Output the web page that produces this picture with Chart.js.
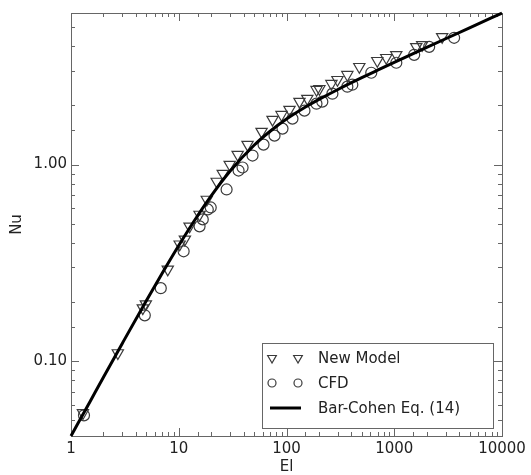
<!DOCTYPE html>
<html>
<head>
<meta charset="utf-8">
<script src="https://cdn.jsdelivr.net/npm/chart.js@4.4.0/dist/chart.umd.min.js"></script>
<style>
  html, body { margin: 0; padding: 0; background: #fff; }
</style>
</head>
<body>
<canvas id="nuChart" width="531" height="475"></canvas>
<script>
// values
const modelEl = [1.29, 2.72, 4.64, 4.95, 7.91, 10.2, 11.4, 12.6, 15.6, 18.2, 22.5, 25.6, 29.7, 35.2, 43.5, 58.7,
  74.2, 89.9, 106.6, 132, 156, 190, 202, 261, 297, 367, 474, 696, 843, 1044, 1600, 1816, 2782];
const modelNu = [0.0545, 0.110, 0.186, 0.195, 0.293, 0.393, 0.416, 0.485, 0.557, 0.664, 0.820, 0.900, 1.00, 1.124, 1.263, 1.471,
  1.692, 1.793, 1.902, 2.089, 2.163, 2.402, 2.43, 2.577, 2.700, 2.864, 3.144, 3.373, 3.493, 3.615, 3.97, 4.064, 4.465];

const cfdEl = [1.32, 4.84, 6.81, 11.1, 15.6, 16.7, 18.6, 19.8, 27.8, 35.9, 39.1, 48.4, 61.2, 77.4, 91.8, 113.6,
  146.8, 189.7, 215, 266.7, 367, 408, 612, 1045, 1531, 2109, 3594];
const cfdNu = [0.053, 0.171, 0.235, 0.362, 0.485, 0.526, 0.591, 0.605, 0.747, 0.932, 0.966, 1.111, 1.263, 1.403, 1.523, 1.712,
  1.880, 2.040, 2.089, 2.293, 2.489, 2.547, 2.931, 3.294, 3.615, 3.970, 4.413];

const corrEl = [1, 1.5, 2, 3, 5, 7, 10, 15, 20, 30, 50, 70, 100, 150, 200, 300, 500, 700, 1000, 2000, 3000, 5000, 10000];
const corrNu = [0.0416, 0.0622, 0.0828, 0.1234, 0.2028, 0.279, 0.3872, 0.5503, 0.693, 0.9267, 1.253, 1.473, 1.703,
  1.960, 2.144, 2.409, 2.765, 3.018, 3.307, 3.941, 4.364, 4.960, 5.899];

const xTickLabels = ['1', '10', '100', '1000', '10000'];
const yTickLabels = ['0.10', '1.00'];
const legendLabels = ['New Model', 'CFD', 'Bar-Cohen Eq. (14)'];

const FONT = "'DejaVu Sans', 'Liberation Sans', sans-serif";
const MARK = '#3a3a3a';

const toPts = (xs, ys) => xs.map((v, i) => ({ x: v, y: ys[i] }));

function pickLabel(list, value) {
  const hit = list.find(s => Math.abs(Number(s) - value) < 1e-9 * Math.max(1, value));
  return hit === undefined ? '' : hit;
}

// frame with inward ticks on all four sides, like the original plot
const frameTicks = {
  id: 'frameTicks',
  beforeDatasetsDraw(chart) {
    const { ctx, chartArea: a, scales: { x, y } } = chart;
    ctx.save();
    ctx.strokeStyle = '#666';
    ctx.lineWidth = 1;
    ctx.strokeRect(a.left + 0.5, a.top + 0.5, a.right - a.left, a.bottom - a.top);
    ctx.beginPath();
    x.ticks.forEach(t => {
      const px = Math.round(x.getPixelForValue(t.value)) + 0.5;
      const len = t.major ? 8 : 4;
      ctx.moveTo(px, a.bottom); ctx.lineTo(px, a.bottom - len);
      ctx.moveTo(px, a.top); ctx.lineTo(px, a.top + len);
    });
    y.ticks.forEach(t => {
      const py = Math.round(y.getPixelForValue(t.value)) + 0.5;
      const len = t.major ? 8 : 4;
      ctx.moveTo(a.left, py); ctx.lineTo(a.left + len, py);
      ctx.moveTo(a.right, py); ctx.lineTo(a.right - len, py);
    });
    ctx.stroke();
    ctx.restore();
  }
};

function drawTri(ctx, cx, cy, r) {
  ctx.beginPath();
  ctx.moveTo(cx, cy + r);
  ctx.lineTo(cx - r * 0.866, cy - r * 0.5);
  ctx.lineTo(cx + r * 0.866, cy - r * 0.5);
  ctx.closePath();
  ctx.stroke();
}

// matplotlib-style legend with two markers per entry
const boxLegend = {
  id: 'boxLegend',
  afterDraw(chart) {
    const { ctx, chartArea: a } = chart;
    const w = 231, h = 85;
    const left = a.right - 9 - w, top = a.bottom - 8 - h;
    ctx.save();
    ctx.fillStyle = '#fff';
    ctx.strokeStyle = '#666';
    ctx.lineWidth = 1;
    ctx.fillRect(left, top, w, h);
    ctx.strokeRect(left + 0.5, top + 0.5, w, h);

    const rows = [top + 15, top + 40, top + 65];
    ctx.strokeStyle = MARK;
    ctx.lineWidth = 1.2;
    drawTri(ctx, left + 10, rows[0], 5);
    drawTri(ctx, left + 36, rows[0], 5);
    ctx.beginPath(); ctx.arc(left + 10, rows[1], 4, 0, Math.PI * 2); ctx.stroke();
    ctx.beginPath(); ctx.arc(left + 36, rows[1], 4, 0, Math.PI * 2); ctx.stroke();
    ctx.strokeStyle = '#000';
    ctx.lineWidth = 3;
    ctx.beginPath(); ctx.moveTo(left + 8, rows[2]); ctx.lineTo(left + 39, rows[2]); ctx.stroke();

    ctx.fillStyle = '#222';
    ctx.font = '15px ' + FONT;
    ctx.textBaseline = 'middle';
    legendLabels.forEach((s, i) => ctx.fillText(s, left + 56, rows[i] + 1));
    ctx.restore();
  }
};

const chart = new Chart(document.getElementById('nuChart').getContext('2d'), {
  type: 'scatter',
  data: {
    datasets: [
      {
        label: legendLabels[2],
        data: toPts(corrEl, corrNu),
        showLine: true,
        borderColor: '#000',
        borderWidth: 3,
        pointRadius: 0,
        cubicInterpolationMode: 'monotone',
        clip: 3,
        order: 0
      },
      {
        label: legendLabels[0],
        data: toPts(modelEl, modelNu),
        pointStyle: 'triangle',
        rotation: 180,
        pointRadius: 6.5,
        borderColor: MARK,
        borderWidth: 1.2,
        backgroundColor: 'rgba(0,0,0,0)',
        order: 1
      },
      {
        label: legendLabels[1],
        data: toPts(cfdEl, cfdNu),
        pointStyle: 'circle',
        pointRadius: 5.5,
        borderColor: MARK,
        borderWidth: 1.2,
        backgroundColor: 'rgba(0,0,0,0)',
        order: 2
      }
    ]
  },
  plugins: [frameTicks, boxLegend],
  options: {
    responsive: false,
    animation: false,
    layout: { padding: { left: 0, top: 10, right: 29, bottom: 0 } },
    plugins: { legend: { display: false }, tooltip: { enabled: false } },
    scales: {
      x: {
        type: 'logarithmic',
        min: 1,
        max: 10000,
        afterFit: s => { s.height = 39; },
        grid: { display: false, drawTicks: false },
        border: { display: false },
        ticks: {
          autoSkip: false,
          maxRotation: 0,
          padding: 4,
          color: '#222',
          font: { family: FONT, size: 15 },
          callback: v => pickLabel(xTickLabels, v)
        },
        title: { display: true, text: 'El', color: '#222', font: { family: FONT, size: 15 }, padding: { top: 0, bottom: -1 } }
      },
      y: {
        type: 'logarithmic',
        min: 0.0416,
        max: 5.9,
        afterFit: s => { s.width = 71; },
        grid: { display: false, drawTicks: false },
        border: { display: false },
        ticks: {
          autoSkip: false,
          padding: 4,
          color: '#222',
          font: { family: FONT, size: 15 },
          callback: v => pickLabel(yTickLabels, v)
        },
        title: { display: true, text: 'Nu', color: '#222', font: { family: FONT, size: 15 }, padding: { top: 8, bottom: 4 } }
      }
    }
  }
});
</script>
</body>
</html>
